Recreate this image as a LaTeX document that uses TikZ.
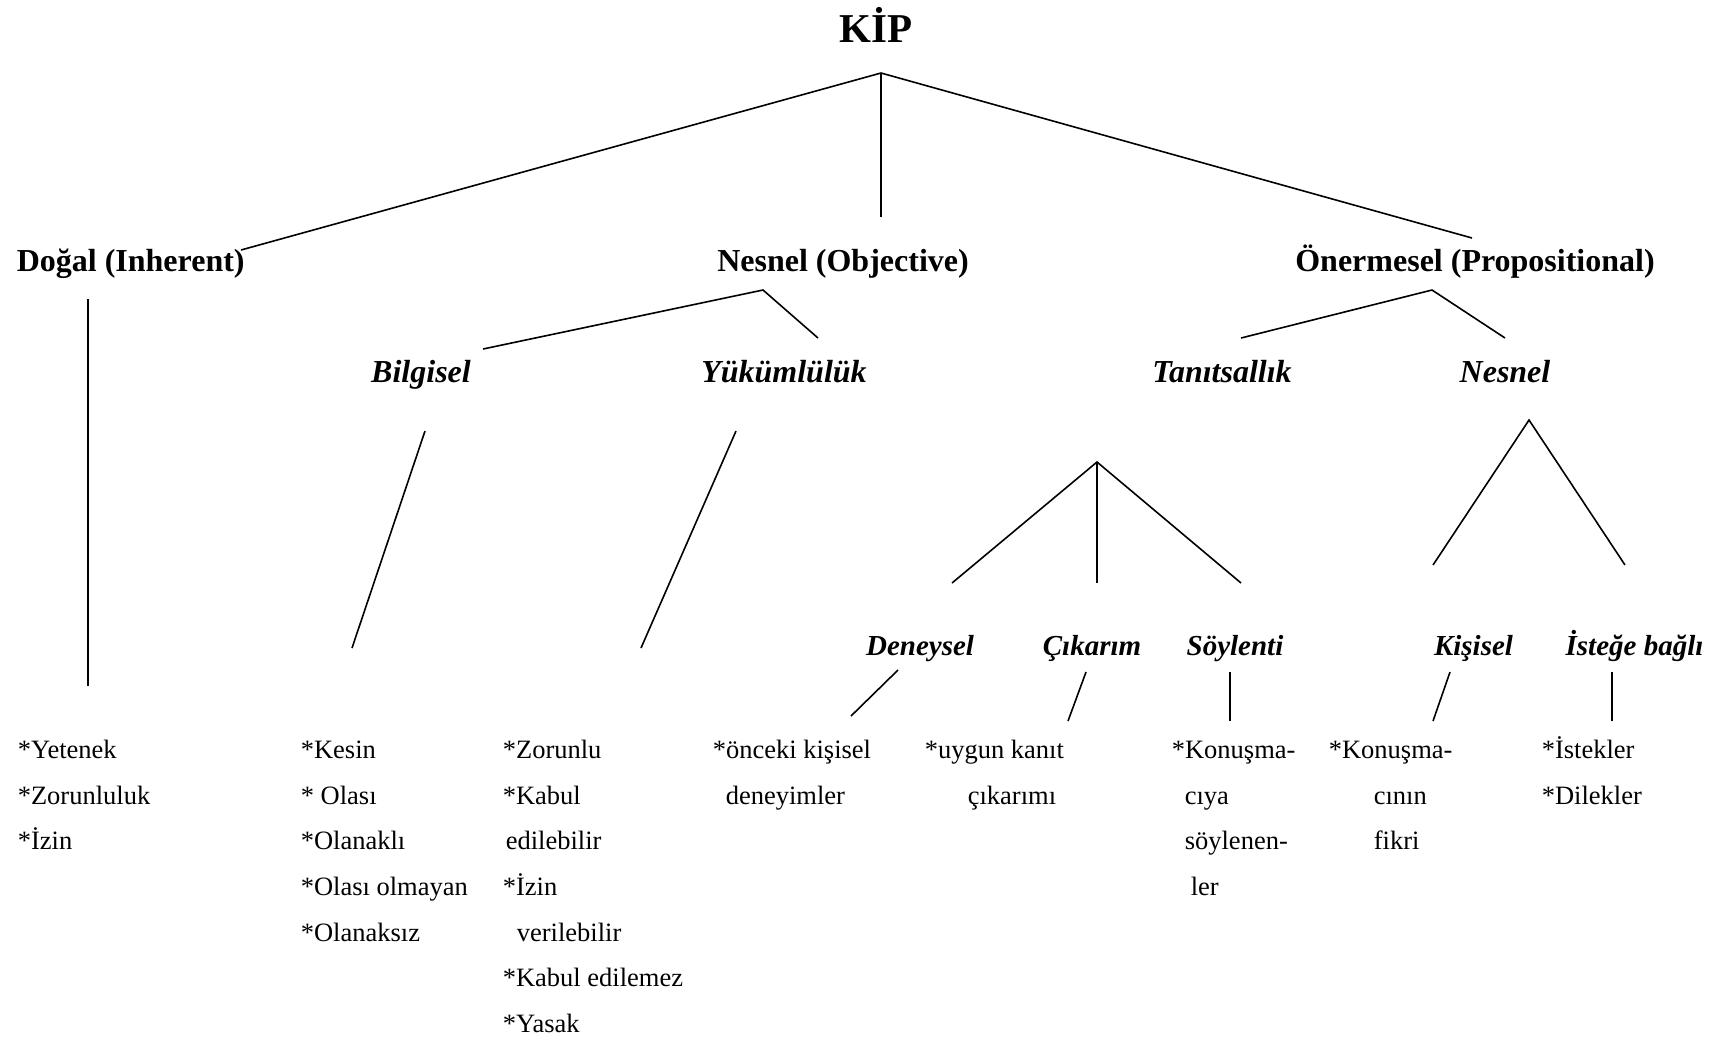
\documentclass[tikz,border=0pt]{standalone}
\usepackage{fontspec}
\setmainfont{Liberation Serif}
\tikzset{
	head/.style = {font=\fontsize{16}{19}\selectfont\bfseries, inner sep=0pt, anchor=base},
	subhead/.style = {font=\fontsize{16}{19}\selectfont\bfseries\itshape, inner sep=0pt, anchor=base},
	leafhead/.style = {font=\fontsize{14.5}{17}\selectfont\bfseries\itshape, inner sep=0pt, anchor=base},
	listtext/.style = {font=\fontsize{13.25}{16}\selectfont, inner sep=0pt, anchor=base west},
}

\begin{document}
\begin{tikzpicture}[x = 0.5pt, y = -0.5pt, line width = 0.8pt,
]
	\useasboundingbox (0,0) rectangle (1722,1041);

	\def \rowOne {758};
	\def \rowTwo {804};
	\def \rowThree {849};
	\def \rowFour {895};
	\def \rowFive {941};
	\def \rowSix {986};
	\def \rowSeven {1032};

%title and first level
	\node[head, font=\fontsize{20.5}{24}\selectfont\bfseries] (Kip) at (876,42) {KİP};
	\node[head, anchor=base west] (Dogal) at (16,271) {Doğal (Inherent)};
	\node[head] (Nesnel) at (843,271) {Nesnel (Objective)};
	\node[head] (Onerme) at (1475,271) {Önermesel (Propositional)};

	\coordinate (KipTop) at (881,73);
	\coordinate (DogalTop) at (241,250);
	\coordinate (NesnelTop) at (881,217);
	\coordinate (OnermeTop) at (1472,238);
	\draw (DogalTop) -- (KipTop) -- (OnermeTop);
	\draw (KipTop) -- (NesnelTop);

%second level
	\node[subhead] (Bilgisel) at (421,382) {Bilgisel};
	\node[subhead] (Yukum) at (784,382) {Yükümlülük};
	\node[subhead] (Tanit) at (1222,382) {Tanıtsallık};
	\node[subhead] (NesnelTwo) at (1505,382) {Nesnel};

	\coordinate (NesnelJoin) at (763,290);
	\coordinate (BilgiselTop) at (483,349);
	\coordinate (YukumTop) at (818,338);
	\draw (BilgiselTop) -- (NesnelJoin) -- (YukumTop);

	\coordinate (OnermeJoin) at (1432,290);
	\coordinate (TanitTop) at (1241,338);
	\coordinate (NesnelTwoTop) at (1505,338);
	\draw (TanitTop) -- (OnermeJoin) -- (NesnelTwoTop);

%stems down to the lists
	\coordinate (DogalStemA) at (88,299);
	\coordinate (DogalStemB) at (88,686);
	\coordinate (BilgiselStemA) at (425,431);
	\coordinate (BilgiselStemB) at (352,648);
	\coordinate (YukumStemA) at (736,431);
	\coordinate (YukumStemB) at (641,648);
	\draw (DogalStemA) -- (DogalStemB);
	\draw (BilgiselStemA) -- (BilgiselStemB);
	\draw (YukumStemA) -- (YukumStemB);

%third level
	\node[leafhead] (Deneysel) at (920,655) {Deneysel};
	\node[leafhead] (Cikarim) at (1092,655) {Çıkarım};
	\node[leafhead] (Soylenti) at (1235,655) {Söylenti};
	\node[leafhead] (Kisisel) at (1473.5,655) {Kişisel};
	\node[leafhead] (Istege) at (1634.5,655) {İsteğe bağlı};

	\coordinate (TanitJoin) at (1097,462);
	\coordinate (DeneyselTop) at (952,583);
	\coordinate (CikarimTop) at (1097,583);
	\coordinate (SoylentiTop) at (1241,583);
	\draw (DeneyselTop) -- (TanitJoin) -- (SoylentiTop);
	\draw (TanitJoin) -- (CikarimTop);

	\coordinate (NesnelTwoJoin) at (1529,420);
	\coordinate (KisiselTop) at (1433,565);
	\coordinate (IstegeTop) at (1625,565);
	\draw (KisiselTop) -- (NesnelTwoJoin) -- (IstegeTop);

	\coordinate (DeneyselStemA) at (898,670);
	\coordinate (DeneyselStemB) at (851,716);
	\coordinate (CikarimStemA) at (1086,672);
	\coordinate (CikarimStemB) at (1068,721);
	\coordinate (SoylentiStemA) at (1230,672);
	\coordinate (SoylentiStemB) at (1230,721);
	\coordinate (KisiselStemA) at (1450,672);
	\coordinate (KisiselStemB) at (1433,721);
	\coordinate (IstegeStemA) at (1612,672);
	\coordinate (IstegeStemB) at (1612,721);
	\draw (DeneyselStemA) -- (DeneyselStemB);
	\draw (CikarimStemA) -- (CikarimStemB);
	\draw (SoylentiStemA) -- (SoylentiStemB);
	\draw (KisiselStemA) -- (KisiselStemB);
	\draw (IstegeStemA) -- (IstegeStemB);

%lists
	\node[listtext] (DogalA) at (17,\rowOne) {*Yetenek};
	\node[listtext] (DogalB) at (17,\rowTwo) {*Zorunluluk};
	\node[listtext] (DogalC) at (17,\rowThree) {*İzin};

	\node[listtext] (BilgiselA) at (300,\rowOne) {*Kesin};
	\node[listtext] (BilgiselB) at (300,\rowTwo) {* Olası};
	\node[listtext] (BilgiselC) at (300,\rowThree) {*Olanaklı};
	\node[listtext] (BilgiselD) at (300,\rowFour) {*Olası olmayan};
	\node[listtext] (BilgiselE) at (300,\rowFive) {*Olanaksız};

	\node[listtext] (YukumA) at (502,\rowOne) {*Zorunlu};
	\node[listtext] (YukumB) at (502,\rowTwo) {*Kabul};
	\node[listtext] (YukumC) at (505,\rowThree) {edilebilir};
	\node[listtext] (YukumD) at (502,\rowFour) {*İzin};
	\node[listtext] (YukumE) at (516,\rowFive) {verilebilir};
	\node[listtext] (YukumF) at (502,\rowSix) {*Kabul edilemez};
	\node[listtext] (YukumG) at (502,\rowSeven) {*Yasak};

	\node[listtext] (DeneyselA) at (712,\rowOne) {*önceki kişisel};
	\node[listtext] (DeneyselB) at (725,\rowTwo) {deneyimler};

	\node[listtext] (CikarimA) at (924,\rowOne) {*uygun kanıt};
	\node[listtext] (CikarimB) at (967,\rowTwo) {çıkarımı};

	\node[listtext] (SoylentiA) at (1171,\rowOne) {*Konuşma-};
	\node[listtext] (SoylentiB) at (1184,\rowTwo) {cıya};
	\node[listtext] (SoylentiC) at (1184,\rowThree) {söylenen-};
	\node[listtext] (SoylentiD) at (1190,\rowFour) {ler};

	\node[listtext] (KisiselA) at (1328,\rowOne) {*Konuşma-};
	\node[listtext] (KisiselB) at (1373,\rowTwo) {cının};
	\node[listtext] (KisiselC) at (1373,\rowThree) {fikri};

	\node[listtext] (IstegeA) at (1541,\rowOne) {*İstekler};
	\node[listtext] (IstegeB) at (1541,\rowTwo) {*Dilekler};
\end{tikzpicture}
\end{document}
